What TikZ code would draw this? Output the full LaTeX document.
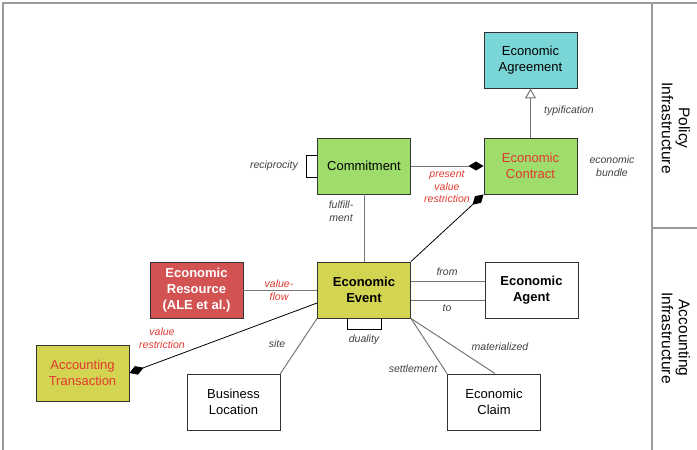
\documentclass[tikz,border=0pt]{standalone}
\usepackage{fontspec}
\setmainfont{Liberation Sans}
\usepackage{xcolor}
\usetikzlibrary{arrows.meta,calc}
\definecolor{reaCyan}{HTML}{7AD5D6}
\definecolor{reaGreen}{HTML}{9EDC6C}
\definecolor{reaOlive}{HTML}{D3D452}
\definecolor{reaRed}{HTML}{D35252}
\definecolor{reaText}{HTML}{E2392F}
\definecolor{reaLine}{HTML}{777777}
\definecolor{reaFrame}{HTML}{9A9A9A}

\tikzset{
  entity/.style={draw=black!80,line width=0.9pt,minimum width=93pt,minimum height=56pt,
    align=center,inner sep=2pt,font=\fontsize{13}{16}\selectfont},
  rel/.style={draw=reaLine,line width=1pt},
  restr/.style={draw=black,line width=0.8pt},
  lbl/.style={font=\fontsize{10.5}{12.5}\selectfont\itshape,text=black!75,align=center,inner sep=0pt},
  redlbl/.style={lbl,text=reaText},
  agg/.style={-{Diamond[length=15pt,width=9pt,color=black,fill=black]}},
}

\begin{document}
\begin{tikzpicture}[x=1pt,y=-1pt]
    \useasboundingbox (0,0) rectangle (697,450);
    % frame
    \draw[reaFrame,line width=1.3pt] (3,450)--(3,3)--(697,3);
    \draw[reaFrame,line width=1.3pt] (652,3)--(652,450);
    \draw[reaFrame,line width=1.3pt] (652,228)--(697,228);
    \node[rotate=-90,align=center,font=\fontsize{15.5}{17}\selectfont] (policy) at (676,128) {Policy\\Infrastructure};
    \node[rotate=-90,align=center,font=\fontsize{15.5}{17}\selectfont] (acct) at (676,338) {Accounting\\Infrastructure};

    % entities
    \node[entity,fill=reaCyan] (agree) at (530.5,60) {Economic\\Agreement};
    \node[entity,fill=reaGreen,text=reaText] (contract) at (530.5,166) {Economic\\Contract};
    \node[entity,fill=reaGreen] (commit) at (364,166) {Commitment};
    \node[entity,fill=reaOlive,font=\fontsize{13}{16}\selectfont\bfseries] (event) at (364,290) {Economic\\Event};
    \node[entity,fill=white,font=\fontsize{13}{16}\selectfont\bfseries] (agent) at (531.5,290) {Economic\\Agent};
    \node[entity,fill=reaRed,text=white,font=\fontsize{13}{16}\selectfont\bfseries] (resource) at (196.5,290) {Economic\\Resource\\(ALE et al.)};
    \node[entity,fill=reaOlive,text=reaText] (trans) at (82.5,373) {Accounting\\Transaction};
    \node[entity,fill=white] (location) at (233.5,402) {Business\\Location};
    \node[entity,fill=white] (claim) at (494,402) {Economic\\Claim};

    % connectors
    \draw[rel,-{Triangle[open,length=10pt,width=11pt]}] (contract.north) -- (agree.south);
    \draw[rel,agg] (commit.east) -- (contract.west);
    \draw[restr,agg] (event.north east) -- (contract.south west);
    \draw[rel] (commit.south) -- (event.north);
    \draw[rel] (resource.east) -- (event.west);
    \draw[restr,agg] ([yshift=-13pt]event.west) -- (trans.east);
    \draw[rel] ([yshift=9pt]event.east) -- ([yshift=9pt]agent.west);
    \draw[rel] ([yshift=-10pt]event.east) -- ([yshift=-10pt]agent.west);
    \draw[rel] (event.south west) -- (location.north east);
    \draw[rel] (event.south east) -- (claim.north west);
    \draw[rel] (event.south east) -- ([xshift=1pt]claim.north);
    % recursive loops
    \draw[black,line width=1pt] ([yshift=11pt]commit.west) -- ++(-11pt,0) |- ([yshift=-11pt]commit.west);
    \draw[black,line width=1pt] ([xshift=-17pt]event.south) -- ++(0,-11pt) -| ([xshift=17pt]event.south);

    % labels
    \node[lbl] (lrecip) at (274,166) {reciprocity};
    \node[lbl] (lfulfil) at (341,211) {fulfill-\\ment};
    \node[redlbl] (lpvr) at (447,187) {present\\value\\restriction};
    \node[lbl] (ltypif) at (569,111) {typification};
    \node[lbl] (lbundle) at (612,166) {economic\\bundle};
    \node[redlbl] (lflow) at (279,290) {value-\\flow};
    \node[redlbl] (lvr) at (162,338) {value\\restriction};
    \node[lbl] (lfrom) at (447,272) {from};
    \node[lbl] (lto) at (447,308) {to};
    \node[lbl] (lsite) at (277,344) {site};
    \node[lbl] (ldual) at (364,340) {duality};
    \node[lbl] (lmat) at (500,347) {materialized};
    \node[lbl] (lsettle) at (413,369) {settlement};
\end{tikzpicture}
\end{document}
